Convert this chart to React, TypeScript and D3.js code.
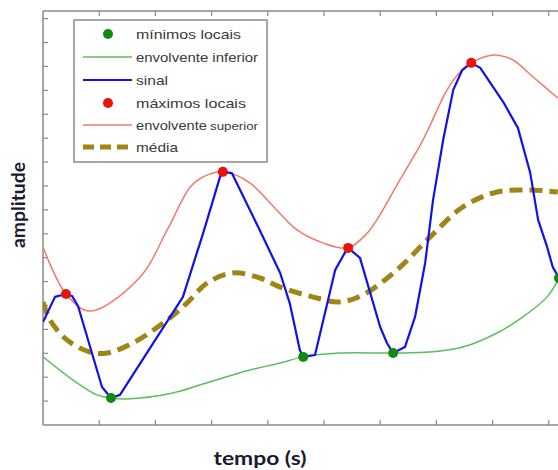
import React from "react";
import * as d3 from "d3";

const signalX = [0, 0.214, 0.409, 0.516, 0.623, 1.05, 1.21, 1.37, 2.49, 2.85, 3.15, 3.2, 3.36, 3.83, 4.22, 4.39, 4.57, 4.63, 4.84, 5.2, 5.37, 5.43, 5.64, 6.0, 6.12, 6.23, 6.44, 6.62, 6.8, 6.94, 7.12, 7.3, 7.46, 7.62, 7.78, 8.19, 8.45, 8.67, 8.81, 8.97, 9.07, 9.18];
const signalY = [4.31, 5.36, 5.48, 5.4, 4.98, 1.59, 1.13, 1.26, 5.36, 8.03, 10.38, 10.59, 10.54, 8.28, 6.36, 5.1, 3.14, 2.85, 2.93, 6.49, 7.2, 7.41, 6.99, 4.1, 3.43, 3.01, 3.26, 4.52, 6.78, 9.41, 11.92, 14.02, 14.85, 15.15, 14.94, 13.51, 12.43, 10.54, 8.58, 7.45, 6.61, 6.15];

const upperX = [0, 0.409, 0.836, 1.73, 2.21, 2.62, 2.85, 3.2, 3.68, 4.04, 4.52, 4.98, 5.43, 5.77, 5.94, 6.35, 6.76, 7.19, 7.42, 7.62, 8.01, 8.36, 8.72, 9.16];
const upperY = [7.45, 5.48, 4.77, 6.19, 8.16, 9.96, 10.38, 10.59, 10.13, 9.29, 8.16, 7.62, 7.41, 8.03, 8.58, 10.25, 11.92, 14.02, 14.77, 15.15, 15.48, 15.27, 14.56, 13.68];

const lowerX = [0, 0.534, 0.961, 1.21, 1.49, 2.31, 2.79, 3.68, 4.22, 4.63, 5.28, 6.23, 6.89, 7.47, 8.08, 8.54, 8.97, 9.18];
const lowerY = [2.85, 1.88, 1.26, 1.13, 1.09, 1.34, 1.67, 2.3, 2.59, 2.85, 3.01, 3.01, 3.05, 3.26, 3.85, 4.52, 5.36, 6.15];

const meanX = [0, 0.125, 0.427, 0.836, 1.14, 1.6, 2.21, 2.56, 2.92, 3.38, 3.86, 4.22, 4.8, 5.28, 5.69, 6.3, 6.89, 7.47, 8.08, 8.67, 9.16];
const meanY = [5.15, 4.39, 3.56, 3.05, 3.01, 3.43, 4.39, 5.1, 5.94, 6.36, 6.15, 5.77, 5.36, 5.15, 5.44, 6.49, 7.87, 9.12, 9.75, 9.83, 9.75];

const maxX = [0.409, 3.2, 5.43, 7.62];
const maxY = [5.48, 10.59, 7.41, 15.15];
const minX = [1.21, 4.63, 6.23, 9.18];
const minY = [1.13, 2.85, 3.01, 6.15];

const xTicks = [1, 2, 3, 4, 5, 6, 7, 8, 9];
const yTicks = d3.range(1, 18);

const legendLabels = ["mínimos locais", "envolvente inferior", "sinal", "máximos locais", "envolvente", "média"];
const legendWidths = [105, 122, 32, 110, 71, 42];

const W = 558;
const H = 470;
const left = 43;
const top = 11;
const bottom = 425;

const x = d3.scaleLinear().domain([0, 10]).range([left, left + 562]);
const y = d3.scaleLinear().domain([0, 17.32]).range([bottom, top]);

function toPts(xs: number[], ys: number[]): [number, number][] {
  return xs.map((v, i) => [v, ys[i]]);
}

const smooth = d3
  .line<[number, number]>()
  .x((d) => x(d[0]))
  .y((d) => y(d[1]))
  .curve(d3.curveCatmullRom.alpha(0.5));

const straight = d3
  .line<[number, number]>()
  .x((d) => x(d[0]))
  .y((d) => y(d[1]));

const COL_SIG = "#1010f0";
const COL_UP = "#f07a6a";
const COL_LOW = "#5cbf5c";
const COL_MEAN = "#a08516";
const COL_MAX = "#e8140a";
const COL_MIN = "#128a12";
const AX = "#8a8a8a";

export default function App() {
  const legRows = [34, 57, 80, 103, 125, 147];
  return (
    <svg width={W} height={H} style={{ position: "absolute", left: 0, top: 0, background: "#fff" }}>
      <defs>
        <clipPath id="plot">
          <rect x={left} y={top} width={W - left} height={bottom - top} />
        </clipPath>
      </defs>
      <line x1={left} x2={W} y1={top} y2={top} stroke={AX} strokeWidth={1.5} />
      <line x1={left} x2={W} y1={bottom} y2={bottom} stroke={AX} strokeWidth={1.5} />
      <line x1={left} x2={left} y1={top} y2={bottom} stroke={AX} strokeWidth={1.5} />
      {xTicks.map((t) => (
        <g key={"xt" + t}>
          <line x1={x(t)} x2={x(t)} y1={bottom} y2={bottom - 5} stroke={AX} strokeWidth={1.2} />
          <line x1={x(t)} x2={x(t)} y1={top} y2={top + 5} stroke={AX} strokeWidth={1.2} />
        </g>
      ))}
      {yTicks.map((t) => (
        <line key={"yt" + t} x1={left} x2={left + 5} y1={y(t)} y2={y(t)} stroke={AX} strokeWidth={1.2} />
      ))}
      <g clipPath="url(#plot)">
        <path d={smooth(toPts(lowerX, lowerY)) || ""} fill="none" stroke={COL_LOW} strokeWidth={1.5} />
        <path d={smooth(toPts(upperX, upperY)) || ""} fill="none" stroke={COL_UP} strokeWidth={1.5} />
        <path d={smooth(toPts(meanX, meanY)) || ""} fill="none" stroke={COL_MEAN} strokeWidth={5} strokeDasharray="13,7" />
        <path d={straight(toPts(signalX, signalY)) || ""} fill="none" stroke={COL_SIG} strokeWidth={2.2} strokeLinejoin="round" />
        {maxX.map((v, i) => (
          <circle key={"mx" + i} cx={x(v)} cy={y(maxY[i])} r={5} fill={COL_MAX} />
        ))}
        {minX.map((v, i) => (
          <circle key={"mn" + i} cx={x(v)} cy={y(minY[i])} r={5} fill={COL_MIN} />
        ))}
      </g>
      <rect x={74} y={20} width={193} height={142} fill="#fff" stroke="#8a8a8a" strokeWidth={1.5} />
      <circle cx={108} cy={legRows[0]} r={5} fill={COL_MIN} />
      <line x1={83} x2={132} y1={legRows[1]} y2={legRows[1]} stroke={COL_LOW} strokeWidth={1.5} />
      <line x1={83} x2={132} y1={legRows[2]} y2={legRows[2]} stroke={COL_SIG} strokeWidth={2.2} />
      <circle cx={108} cy={legRows[3]} r={5} fill={COL_MAX} />
      <line x1={83} x2={132} y1={legRows[4]} y2={legRows[4]} stroke={COL_UP} strokeWidth={1.5} />
      <line x1={83} x2={132} y1={legRows[5]} y2={legRows[5]} stroke={COL_MEAN} strokeWidth={5} strokeDasharray="11,6" />
      {legendLabels.map((s, i) => (
        <text
          key={"lg" + i}
          x={136}
          y={legRows[i] + 4.5}
          fontFamily="Liberation Sans, Arial, sans-serif"
          fontSize={13}
          fill="#3a3a3a"
          textLength={legendWidths[i]}
          lengthAdjust="spacingAndGlyphs"
        >
          {s}
        </text>
      ))}
      <text
        x={210}
        y={legRows[4] + 4.5}
        fontFamily="Liberation Sans, Arial, sans-serif"
        fontSize={10}
        fill="#3a3a3a"
        textLength={48}
        lengthAdjust="spacingAndGlyphs"
      >
        superior
      </text>
      <text
        x={260}
        y={465}
        textAnchor="middle"
        fontFamily="Lato, 'Open Sans', sans-serif"
        fontWeight="bold"
        fontSize={19}
        fill="#1a1a30"
        textLength={93}
        lengthAdjust="spacingAndGlyphs"
      >
        tempo (s)
      </text>
      <text
        transform="translate(25,205) rotate(-90)"
        textAnchor="middle"
        fontFamily="Lato, 'Open Sans', sans-serif"
        fontWeight="bold"
        fontSize={19}
        fill="#1a1a30"
        textLength={86}
        lengthAdjust="spacingAndGlyphs"
      >
        amplitude
      </text>
    </svg>
  );
}
